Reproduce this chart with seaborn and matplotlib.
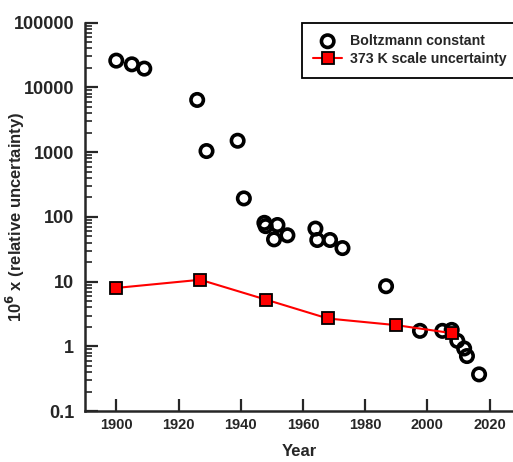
import matplotlib
matplotlib.use("Agg")
import matplotlib.pyplot as plt
import seaborn as sns
import pandas as pd
from matplotlib.ticker import LogLocator, FixedLocator, NullFormatter

# ── Data ─────────────────────────────────────────────────────────────────────
boltz_year = [1900, 1905, 1909, 1926, 1929, 1939, 1941,
              1947.6, 1948, 1950.7, 1951.8, 1955,
              1964, 1964.6, 1968.7, 1972.7, 1986.7,
              1997.6, 2004.8, 2007.8, 2009.6, 2011.8, 2012.7, 2016.6]
boltz_unc = [25900, 22700, 19500, 6400, 1040, 1500, 193,
             81, 72, 45, 75, 52,
             66, 44, 44, 33, 8.5,
             1.74, 1.74, 1.8, 1.22, 0.93, 0.71, 0.37]

scale_year = [1900, 1927, 1948, 1968, 1990, 2008]
scale_unc = [8.0, 10.7, 5.3, 2.7, 2.13, 1.6]

x_ticks = [1900, 1920, 1940, 1960, 1980, 2000, 2020]
y_ticks = [0.1, 1, 10, 100, 1000, 10000, 100000]
y_labels = ["0.1", "1", "10", "100", "1000", "10000", "100000"]

# ── Plot ─────────────────────────────────────────────────────────────────────
sns.set_style("ticks")
plt.rcParams["font.family"] = ["Liberation Sans", "DejaVu Sans"]
plt.rcParams["font.weight"] = "bold"

df_b = pd.DataFrame({"year": boltz_year, "unc": boltz_unc})
df_s = pd.DataFrame({"year": scale_year, "unc": scale_unc})

fig = plt.figure(figsize=(5.13, 4.62), dpi=100)
ax = fig.add_axes([0.166, 0.110, 0.834, 0.841])

sns.scatterplot(data=df_b, x="year", y="unc", ax=ax, marker="o", s=80,
                facecolor="none", edgecolor="black", linewidth=2.6,
                label="Boltzmann constant", zorder=3)
sns.lineplot(data=df_s, x="year", y="unc", ax=ax, color="red", lw=1.5,
             marker="s", markersize=8.5, markerfacecolor="red",
             markeredgecolor="black", markeredgewidth=1.3,
             label="373 K scale uncertainty", zorder=4)

ax.set_yscale("log")
ax.set_ylim(0.1, 100000)
ax.set_xlim(1890, 2027.5)

ax.yaxis.set_major_locator(FixedLocator(y_ticks))
ax.set_yticklabels(y_labels, fontsize=13, fontweight="bold")
ax.yaxis.set_minor_locator(LogLocator(base=10, subs=range(2, 10), numticks=20))
ax.yaxis.set_minor_formatter(NullFormatter())
ax.set_xticks(x_ticks)
ax.set_xticklabels([str(t) for t in x_ticks], fontsize=10.5, fontweight="bold")

ax.tick_params(axis="both", which="major", direction="in", length=9,
               width=1.6)
ax.tick_params(axis="y", which="major", pad=8)
ax.tick_params(axis="y", which="minor", direction="in", length=5, width=1.2)
ax.tick_params(axis="x", which="major", pad=5)

sns.despine(ax=ax)
for side in ["left", "bottom"]:
    ax.spines[side].set_linewidth(1.8)

ax.set_xlabel("Year", fontsize=12, fontweight="bold")
ax.xaxis.set_label_coords(0.5, -0.085)
ax.set_ylabel("10$^\\mathbf{6}$ x (relative uncertainty)", fontsize=12,
              fontweight="bold")
ax.yaxis.set_label_coords(-0.135, 0.5)

leg = ax.legend(loc="upper left", bbox_to_anchor=(0.589, 0.951),
                bbox_transform=fig.transFigure, fancybox=False,
                framealpha=1, edgecolor="black", fontsize=10.2,
                borderpad=0.8, borderaxespad=0, handlelength=2.0,
                handletextpad=0.6, labelspacing=0.3)
leg.get_frame().set_linewidth(1.3)
for t in leg.get_texts():
    t.set_fontweight("bold")

fig.savefig("out.png", dpi=100)
